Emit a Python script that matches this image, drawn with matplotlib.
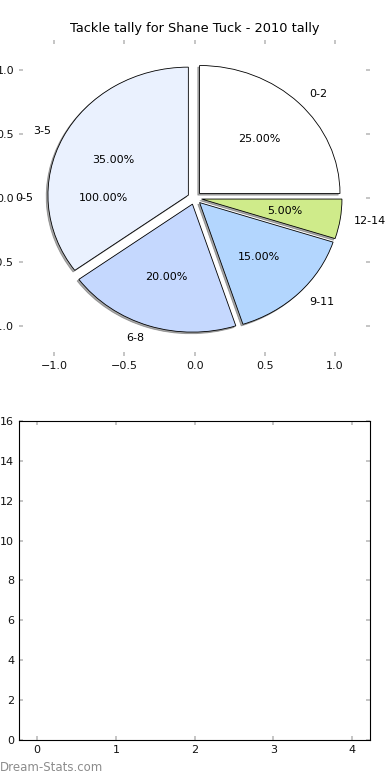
import matplotlib
matplotlib.use("Agg")
import matplotlib.pyplot as plt

# tackle ranges and counts (pie shows share of games)
RANGES = ["0-2", "3-5", "6-8", "9-11", "12-14"]
COUNTS = [5, 7, 4, 3, 1]
COLORS = ["#ffffff", "#eaf1fe", "#c5d8fe", "#b3d6fe", "#cfeb8a"]

# stray single-slice entry that shows up as text only
EXTRA_LABEL = ["0-5"]
EXTRA_COUNT = [1]

TICK_GRAY = "#bbbbbb"

plt.rcParams.update({
    "font.size": 8,
    "xtick.direction": "in",
    "ytick.direction": "in",
    "xtick.color": TICK_GRAY,
    "ytick.color": TICK_GRAY,
    "xtick.labelcolor": "#111111",
    "ytick.labelcolor": "#111111",
    "xtick.top": True,
    "ytick.right": True,
    "xtick.major.size": 3,
    "ytick.major.size": 3,
    "xtick.major.width": 1.2,
    "ytick.major.width": 1.2,
})

fig = plt.figure(figsize=(3.9, 7.8), dpi=100)

ax = fig.add_axes([0.049, 0.5436, 0.9, 0.405])
w, _, _ = ax.pie(EXTRA_COUNT, labels=EXTRA_LABEL, autopct="%1.2f%%",
                 explode=[0.05], startangle=0)
for p in w:
    p.set_visible(False)
ax.pie(COUNTS, labels=RANGES, colors=COLORS, autopct="%1.2f%%",
       explode=[0.05] * len(COUNTS), startangle=0,
       shadow={"ox": -0.009, "oy": -0.009, "color": "#555555"},
       wedgeprops={"edgecolor": "black", "linewidth": 0.6})
ax.set_aspect("auto")
for s in ax.spines.values():
    s.set_visible(False)
ax.set_xlim(-1.25, 1.25)
ax.set_ylim(-1.234, 1.234)
ax.set_xticks([-1.0, -0.5, 0.0, 0.5, 1.0])
ax.set_yticks([-1.0, -0.5, 0.0, 0.5, 1.0])
ax.set_title("Tackle tally for Shane Tuck - 2010 tally", fontsize=9.3)

ax2 = fig.add_axes([0.049, 0.0513, 0.9, 0.409])
ax2.set_xlim(-0.23, 4.23)
ax2.set_ylim(0, 16)
ax2.set_xticks(range(5))
ax2.set_yticks(range(0, 17, 2))

fig.text(0.0, 0.008, "Dream-Stats.com", color="#8c8c8c", fontsize=8.5,
         ha="left", va="bottom")

fig.savefig("out.png", dpi=100)
